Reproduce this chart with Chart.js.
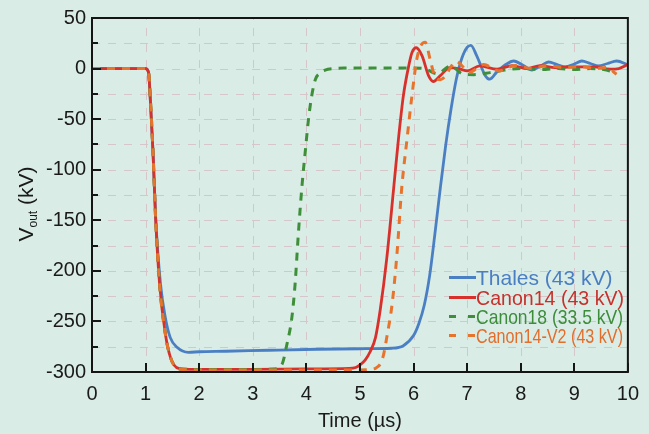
<!DOCTYPE html>
<html><head><meta charset="utf-8">
<script src="https://cdn.jsdelivr.net/npm/chart.js@4.4.1/dist/chart.umd.min.js"></script>
<style>
html,body{margin:0;padding:0;background:#d9ece6;}
#wrap{width:649px;height:434px;position:relative;}
</style></head><body>
<div id="wrap"><canvas id="c" width="649" height="434"></canvas></div>
<script>
// ---- data (time in µs, voltage in kV) ----
const seriesNames = ['Thales (43 kV)', 'Canon14 (43 kV)', 'Canon18 (33.5 kV)', 'Canon14-V2 (43 kV)'];
const xTickLabels = ['0','1','2','3','4','5','6','7','8','9','10'];
const yTickLabels = ['50','0','-50','-100','-150','-200','-250','-300'];

const tThales = [0, 1.0, 1.056, 1.075, 1.138, 1.187, 1.278, 1.368, 1.461, 1.586, 1.80, 2.0, 2.5, 3.3, 4.2, 5.0, 5.6, 5.81, 6.0, 6.1, 6.2, 6.3, 6.4, 6.5, 6.6, 6.7, 6.8, 6.9, 7.0, 7.07, 7.18, 7.34, 7.42, 7.56, 7.72, 7.87, 8.05, 8.21, 8.37, 8.52, 8.68, 8.83, 9.0, 9.14, 9.3, 9.45, 9.62, 9.79, 10];
const vThales = [0, 0, -4, -17, -82, -146, -213, -246, -266, -275.5, -280.5, -280, -279.5, -278.5, -277.5, -277, -276.5, -274, -264, -252, -234, -205, -163, -118, -76, -40, -10, 10, 21, 23, 12.5, -7, -10.5, -3, 4, 7.5, 3, -1.5, 2.5, 6.5, 4, 1.6, 4.5, 7.5, 5, 2.6, 5, 7.5, 3.6];

const tCanon14 = [0, 1.0, 1.056, 1.075, 1.138, 1.187, 1.261, 1.368, 1.461, 1.616, 1.9, 3.0, 4.0, 4.8, 4.92, 5.0, 5.1, 5.19, 5.29, 5.38, 5.50, 5.63, 5.72, 5.81, 5.91, 5.97, 6.05, 6.16, 6.28, 6.37, 6.50, 6.68, 6.87, 7.0, 7.24, 7.56, 7.84, 8.12, 8.36, 8.64, 8.98, 9.36, 9.67, 9.83, 10];
const vCanon14 = [0, 0, -4, -17, -82, -148, -213, -262, -285, -296.5, -297.5, -297.5, -297, -296.5, -295.5, -293, -288, -280, -266, -238, -188, -118, -69, -27, 2.6, 15.7, 20.6, 12.5, -7, -12.8, -7, 1, -0.6, -2.3, 2.6, -0.6, 3, 0, 3, 1, 1.6, 1.6, -0.6, 0, 4];

const tCanon18 = [0, 1.0, 1.056, 1.075, 1.138, 1.187, 1.261, 1.368, 1.461, 1.616, 2.0, 3.0, 3.4, 3.54, 3.64, 3.73, 3.79, 3.85, 3.92, 3.98, 4.04, 4.10, 4.17, 4.25, 4.35, 4.5, 4.7, 5.0, 5.5, 6.0, 6.2, 6.44, 6.69, 6.93, 7.12, 7.43, 7.7, 8.0, 8.4, 8.7, 9.0, 9.3, 9.55, 9.76];
const vCanon18 = [0, 0, -4, -17, -82, -148, -213, -262, -285, -297, -297.5, -297.5, -297, -293, -272, -246, -213, -164, -115, -82, -50, -27, -10.5, -4.5, -1.5, 0, 0.5, 0.5, 0.5, 0.5, 0, -5, 2.5, -5.5, -6, -4, -1.5, 0, -1, 0, -1, 0, -1, -4];

const tCanon14V2 = [0, 1.0, 1.056, 1.075, 1.138, 1.187, 1.261, 1.368, 1.461, 1.616, 2.0, 3.0, 4.0, 5.0, 5.2, 5.3, 5.38, 5.44, 5.50, 5.60, 5.69, 5.78, 5.88, 5.97, 6.06, 6.13, 6.22, 6.31, 6.40, 6.50, 6.60, 6.70, 6.80, 6.90, 7.03, 7.31, 7.59, 7.9, 8.2, 8.5, 8.8, 9.1, 9.4, 9.6, 9.79];
const vCanon14V2 = [0, 0, -4, -17, -82, -148, -213, -262, -285, -297, -298, -298, -298, -298, -297.5, -296, -292, -283, -266, -233, -184, -118, -69, -27, 9, 22, 26, 9, -8, -11, -7, 2, 7, 3, -4, 4, -2.3, 3, 0, 3, 1, 2, 0, 1, -5.6];

const seriesColors = ['#4a7fc4', '#d8312c', '#3f8f3a', '#e8732d'];
const legendTextColors = ['#4a7ec3', '#c8302b', '#3d8c3a', '#e36d2b'];

function pts(t, v){ return t.map((x,i)=>({x:x, y:v[i]})); }

const FONT = "'Liberation Sans', Arial, sans-serif";
const GRID = '#d6c6ca';
const AXIS = '#151515';

const gridPlugin = {
  id:'gridPlugin',
  beforeDatasetsDraw(chart){
    const ctx = chart.ctx, xs = chart.scales.x, ys = chart.scales.y, ca = chart.chartArea;
    ctx.save();
    ctx.strokeStyle = GRID; ctx.lineWidth = 1; ctx.setLineDash([8,8]);
    xs.ticks.forEach(tk=>{
      if (tk.value > xs.min && tk.value < xs.max){
        const x = Math.round(xs.getPixelForValue(tk.value)) + 0.5;
        ctx.beginPath(); ctx.moveTo(x, ca.bottom); ctx.lineTo(x, ca.top); ctx.stroke();
      }
    });
    ys.ticks.forEach(tk=>{
      if (tk.value > ys.min && tk.value < ys.max){
        const y = Math.round(ys.getPixelForValue(tk.value)) + 0.5;
        ctx.beginPath(); ctx.moveTo(ca.left, y); ctx.lineTo(ca.right, y); ctx.stroke();
      }
    });
    ctx.restore();
  }
};

const framePlugin = {
  id:'framePlugin',
  afterDatasetsDraw(chart){
    const ctx = chart.ctx, xs = chart.scales.x, ys = chart.scales.y, ca = chart.chartArea;
    ctx.save();
    ctx.strokeStyle = AXIS; ctx.lineWidth = 2; ctx.setLineDash([]);
    ctx.strokeRect(ca.left, ca.top, ca.right - ca.left, ca.bottom - ca.top);
    ctx.lineWidth = 2;
    ys.ticks.forEach(tk=>{
      const y = Math.round(ys.getPixelForValue(tk.value));
      const len = (tk.value % 50 === 0) ? 9 : 6;
      ctx.beginPath(); ctx.moveTo(ca.left, y); ctx.lineTo(ca.left + len, y); ctx.stroke();
    });
    xs.ticks.forEach(tk=>{
      const x = Math.round(xs.getPixelForValue(tk.value));
      ctx.beginPath(); ctx.moveTo(x, ca.bottom); ctx.lineTo(x, ca.bottom - 9); ctx.stroke();
    });
    ctx.restore();
  },
  afterDraw(chart){
    const ctx = chart.ctx;
    // y axis title with subscript
    ctx.save();
    ctx.fillStyle = '#1a1a1a';
    const cy = 204;
    ctx.translate(33, 0);
    ctx.rotate(-Math.PI/2);
    ctx.textBaseline = 'alphabetic';
    ctx.font = '21px ' + FONT;
    const w1 = ctx.measureText('V').width;
    const w3 = ctx.measureText(' (kV)').width;
    ctx.font = '12px ' + FONT;
    const w2 = ctx.measureText('out').width;
    const total = w1 + w2 + w3;
    let sx = -cy - total/2;
    ctx.font = '21px ' + FONT; ctx.fillText('V', sx, 0);
    ctx.font = '12px ' + FONT; ctx.fillText('out', sx + w1, 4);
    ctx.font = '21px ' + FONT; ctx.fillText(' (kV)', sx + w1 + w2, 0);
    ctx.restore();

    // legend
    const items = [
      {y:285, dash:[], w:139},
      {y:305, dash:[], w:148},
      {y:324, dash:[7,12], w:147},
      {y:343, dash:[7,12], w:147}
    ];
    ctx.save();
    items.forEach((it, i)=>{
      ctx.strokeStyle = seriesColors[i]; ctx.lineWidth = 3; ctx.setLineDash(it.dash);
      ctx.beginPath(); ctx.moveTo(449, it.y - 7.5); ctx.lineTo(476, it.y - 7.5); ctx.stroke();
      ctx.font = '21px ' + FONT;
      ctx.fillStyle = legendTextColors[i];
      ctx.textBaseline = 'alphabetic'; ctx.textAlign = 'left';
      const mw = ctx.measureText(seriesNames[i]).width;
      const s = Math.min(1, it.w / mw);
      ctx.save();
      ctx.translate(476, it.y);
      ctx.scale(s, 1);
      ctx.fillText(seriesNames[i], 0, 0);
      ctx.restore();
    });
    ctx.restore();
  }
};

const datasets = [
  {label: seriesNames[0], data: pts(tThales, vThales), borderColor: seriesColors[0], borderWidth: 2.8, order: 3},
  {label: seriesNames[1], data: pts(tCanon14, vCanon14), borderColor: seriesColors[1], borderWidth: 2.8, order: 2},
  {label: seriesNames[2], data: pts(tCanon18, vCanon18), borderColor: seriesColors[2], borderWidth: 3, borderDash: [8,7], order: 1},
  {label: seriesNames[3], data: pts(tCanon14V2, vCanon14V2), borderColor: seriesColors[3], borderWidth: 3, borderDash: [8,7], order: 0}
].map(d => Object.assign(d, {pointRadius: 0, fill: false, cubicInterpolationMode: 'monotone', borderCapStyle: 'butt'}));

new Chart(document.getElementById('c'), {
  type: 'line',
  data: { datasets },
  options: {
    responsive: false,
    animation: false,
    devicePixelRatio: 1,
    layout: { padding: { top: 15, right: 21, left: 0, bottom: 0 } },
    plugins: { legend: { display: false }, tooltip: { enabled: false } },
    scales: {
      x: {
        type: 'linear', min: 0, max: 10,
        ticks: { stepSize: 1, autoSkip: false, maxRotation: 0, padding: 10, color: '#1a1a1a',
                 font: { family: FONT, size: 20 },
                 callback: (v) => xTickLabels.includes(String(v)) ? String(v) : '' },
        grid: { display: false, drawTicks: false },
        border: { display: false },
        title: { display: true, text: 'Time (µs)', color: '#1a1a1a', font: { family: FONT, size: 20 }, padding: { top: 0, bottom: 1 } },
        afterFit(s){ s.height = 62; }
      },
      y: {
        type: 'linear', min: -300, max: 50,
        ticks: { stepSize: 25, autoSkip: false, padding: 6, color: '#1a1a1a',
                 font: { family: FONT, size: 20 },
                 callback: (v) => yTickLabels.includes(String(v)) ? String(v) : '' },
        grid: { display: false, drawTicks: false },
        border: { display: false },
        afterFit(s){ s.width = 92; }
      }
    }
  },
  plugins: [gridPlugin, framePlugin]
});
</script>
</body></html>
